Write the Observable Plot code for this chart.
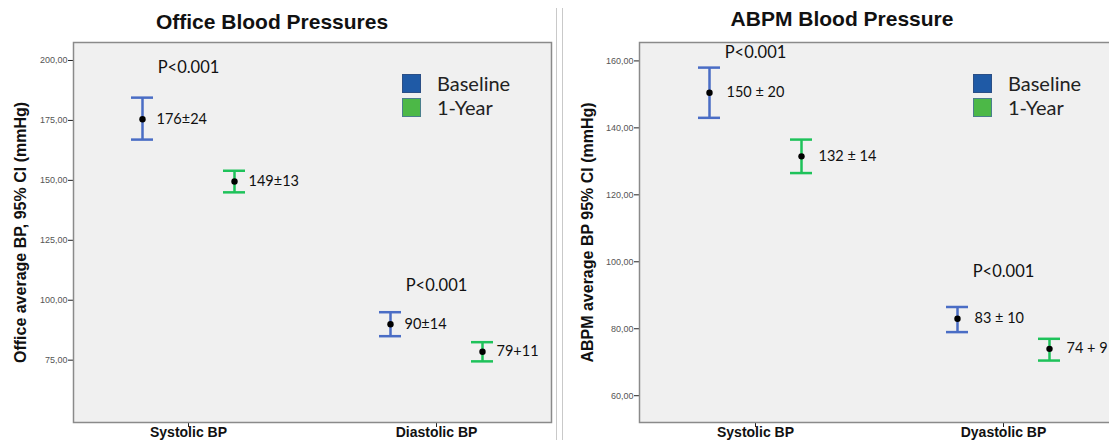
<!DOCTYPE html>
<html><head><meta charset="utf-8">
<script src="https://cdn.jsdelivr.net/npm/d3@7"></script>
<script src="https://cdn.jsdelivr.net/npm/@observablehq/plot@0.6"></script>
<style>
html,body{margin:0;padding:0;background:#fff;overflow:hidden;width:1109px;height:440px;}
#root{position:relative;width:1109px;height:440px;overflow:hidden;font-family:Arial,"Liberation Sans",sans-serif;}
.panel{position:absolute;top:0;}
.title{position:absolute;font:bold 21px Arial,"Liberation Sans",sans-serif;transform:translateX(-50%);white-space:nowrap;line-height:1;color:#111;}
.sep{position:absolute;top:8px;height:432px;width:1px;background:#c9c9c9;}
.legend{position:absolute;font-family:Lato,"Open Sans",sans-serif;font-size:20px;color:#222;}
.legend .item{display:flex;align-items:center;height:24px;}
.legend .sw{width:17px;height:17px;border:1px solid;margin-right:16px;}
svg g[aria-label="y-axis tick label"] text{font-size:9px;fill:#555;}
svg g[aria-label="fx-axis tick label"] text{font-size:14px;font-weight:bold;fill:#111;}
</style></head><body><div id="root"></div>
<script>
// ---- data ----
const series = ["Baseline", "1-Year"];
const seriesColors = ["#4a6dc5", "#1ec25a"];
const legendColors = ["#1f5aa6", "#4cb847"];

const officeCategories = ["Systolic BP", "Diastolic BP"];
const officeBaselineMean = [175.5, 90];
const officeBaselineLow = [167, 85];
const officeBaselineHigh = [184.5, 95];
const officeYearMean = [149.5, 78.5];
const officeYearLow = [145, 74.5];
const officeYearHigh = [154, 82.5];
const officeBaselineLabels = ["176±24", "90±14"];
const officeYearLabels = ["149±13", "79+11"];
const officeYTicks = [75, 100, 125, 150, 175, 200];
const officePText = ["P<0.001", "P<0.001"];
const officePY = [197, 106];

const abpmCategories = ["Systolic BP", "Dyastolic BP"];
const abpmBaselineMean = [150.5, 83];
const abpmBaselineLow = [143, 79];
const abpmBaselineHigh = [158, 86.5];
const abpmYearMean = [131.5, 74];
const abpmYearLow = [126.5, 70.5];
const abpmYearHigh = [136.5, 77];
const abpmBaselineLabels = ["150 ± 20", "83 ± 10"];
const abpmYearLabels = ["132 ± 14", "74 + 9"];
const abpmYTicks = [60, 80, 100, 120, 140, 160];
const abpmPText = ["P<0.001", "P<0.001"];
const abpmPY = [162.5, 97];

// ---- build tables ----
function buildRows(cats, bm, bl, bh, blab, ym, yl, yh, ylab) {
  const rows = [];
  cats.forEach((c, i) => {
    rows.push({cat: c, series: series[0], mean: bm[i], lo: bl[i], hi: bh[i], label: blab[i]});
    rows.push({cat: c, series: series[1], mean: ym[i], lo: yl[i], hi: yh[i], label: ylab[i]});
  });
  return rows;
}
const fmt = d => d.toFixed(2).replace(".", ",");

function panel(o) {
  const rows = o.rows;
  return Plot.plot({
    width: o.width, height: 440,
    marginTop: 42, marginBottom: 18, marginLeft: o.marginLeft, marginRight: o.marginRight,
    style: {background: "transparent", fontFamily: "Arial, 'Liberation Sans', sans-serif", color: "#222"},
    fx: {domain: o.cats, paddingInner: o.fxPad, paddingOuter: 0, label: null, axis: "bottom", tickSize: 5, tickPadding: 0},
    x: {domain: series, axis: null, paddingInner: 0.761, paddingOuter: o.xPadOuter},
    y: {domain: o.yDomain, ticks: o.yTicks, tickFormat: fmt, tickSize: 5, tickPadding: 1, label: null},
    color: {domain: series, range: seriesColors},
    marks: [
      Plot.frame({facet: "super", fill: "#f0f0f0", stroke: "#8a8a8a", strokeWidth: 1.5}),
      Plot.ruleX(rows, {fx: "cat", x: "series", y1: "lo", y2: "hi", stroke: "series", strokeWidth: 2.5}),
      Plot.tickY(rows, {fx: "cat", x: "series", y: "lo", stroke: "series", strokeWidth: 2.5}),
      Plot.tickY(rows, {fx: "cat", x: "series", y: "hi", stroke: "series", strokeWidth: 2.5}),
      Plot.dot(rows, {fx: "cat", x: "series", y: "mean", r: 3.2, fill: "#000", stroke: null}),
      Plot.text(rows, {fx: "cat", x: "series", y: "mean", text: "label", textAnchor: "start", dx: o.labelDx, fontSize: 14.5, fontFamily: "Lato, 'Open Sans', sans-serif", fill: "#111"}),
      Plot.text(o.pRows, {fx: "cat", y: "y", text: "text", fontSize: 16.5, fontFamily: "Lato, 'Open Sans', sans-serif", fill: "#111"}),
      Plot.text([o.yLabel], {fx: () => o.cats[0], frameAnchor: "left", textAnchor: "middle", rotate: -90, dx: o.yLabelDx, text: d => d, fontWeight: "bold", fontSize: 16, fill: "#111"})
    ]
  });
}

const root = document.getElementById("root");

const officeRows = buildRows(officeCategories, officeBaselineMean, officeBaselineLow, officeBaselineHigh, officeBaselineLabels, officeYearMean, officeYearLow, officeYearHigh, officeYearLabels);
const abpmRows = buildRows(abpmCategories, abpmBaselineMean, abpmBaselineLow, abpmBaselineHigh, abpmBaselineLabels, abpmYearMean, abpmYearLow, abpmYearHigh, abpmYearLabels);

const left = panel({
  rows: officeRows, cats: officeCategories, width: 556, marginLeft: 73, marginRight: 5,
  fxPad: 2 - 478 / 248, xPadOuter: 0.63, yDomain: [49, 207.5], yTicks: officeYTicks,
  pRows: officeCategories.map((c, i) => ({cat: c, y: officePY[i], text: officePText[i]})),
  yLabel: "Office average BP, 95% CI (mmHg)", yLabelDx: -53, labelDx: 14
});
left.classList.add("panel"); left.style.left = "0px";
root.appendChild(left);

const right = panel({
  rows: abpmRows, cats: abpmCategories, width: 556, marginLeft: 76, marginRight: 0,
  fxPad: 2 - 480 / 248, xPadOuter: 0.641, yDomain: [52, 165.5], yTicks: abpmYTicks,
  pRows: abpmCategories.map((c, i) => ({cat: c, y: abpmPY[i], text: abpmPText[i]})),
  yLabel: "ABPM average BP 95% CI (mmHg)", yLabelDx: -52, labelDx: 17
});
right.classList.add("panel"); right.style.left = "563px";
root.appendChild(right);

// separators
[556, 562].forEach(x => {
  const s = document.createElement("div"); s.className = "sep"; s.style.left = x + "px"; root.appendChild(s);
});

// titles
[["Office Blood Pressures", 272, 11], ["ABPM Blood Pressure", 842, 8]].forEach(([t, x, y]) => {
  const d = document.createElement("div"); d.className = "title"; d.textContent = t;
  d.style.left = x + "px"; d.style.top = y + "px"; root.appendChild(d);
});

// legends
[[402, 71], [973, 71]].forEach(([x, y]) => {
  const lg = document.createElement("div"); lg.className = "legend";
  lg.style.left = x + "px"; lg.style.top = y + "px";
  series.forEach((s, i) => {
    const it = document.createElement("div"); it.className = "item";
    const sw = document.createElement("div"); sw.className = "sw";
    sw.style.background = legendColors[i];
    sw.style.borderColor = i === 0 ? "#2b4f86" : "#4a7f8c";
    const tx = document.createElement("span"); tx.textContent = s;
    it.appendChild(sw); it.appendChild(tx); lg.appendChild(it);
  });
  root.appendChild(lg);
});
</script></body></html>
